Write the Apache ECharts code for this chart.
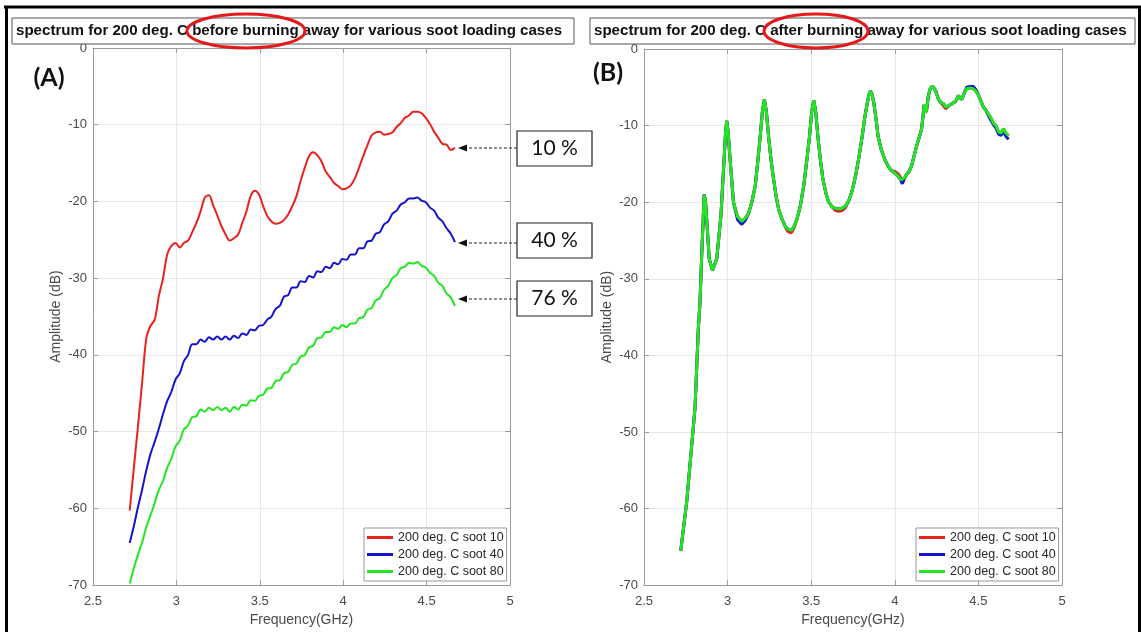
<!DOCTYPE html>
<html>
<head>
<meta charset="utf-8">
<script src="https://cdn.jsdelivr.net/npm/echarts@6/dist/echarts.min.js"></script>
<style>
  html, body { margin: 0; padding: 0; background: #fff; }
  #chart { width: 1141px; height: 632px; }
</style>
</head>
<body>
<div id="chart"></div>
<script>
// panel (A): before burning away, shared frequency grid (GHz)
const freqA = [2.72, 2.745, 2.77, 2.795, 2.82, 2.845, 2.87, 2.895, 2.92, 2.945,
  2.97, 2.995, 3.02, 3.045, 3.07, 3.095, 3.12, 3.145, 3.17, 3.195,
  3.22, 3.245, 3.27, 3.295, 3.32, 3.345, 3.37, 3.395, 3.42, 3.445,
  3.47, 3.495, 3.52, 3.545, 3.57, 3.595, 3.62, 3.645, 3.67, 3.695,
  3.72, 3.745, 3.77, 3.795, 3.82, 3.845, 3.87, 3.895, 3.92, 3.945,
  3.97, 3.995, 4.02, 4.045, 4.07, 4.095, 4.12, 4.145, 4.17, 4.195,
  4.22, 4.245, 4.27, 4.295, 4.32, 4.345, 4.37, 4.395, 4.42, 4.445,
  4.47, 4.495, 4.52, 4.545, 4.57, 4.595, 4.62, 4.645, 4.67];

const soot10A = [-60.3, -54.7, -49.2, -43.5, -37.8, -36.2, -35.4, -32.3, -30.0, -26.9,
  -25.8, -25.4, -26.0, -25.4, -25.1, -24.0, -22.8, -21.3, -19.5, -19.2,
  -20.5, -21.8, -23.2, -24.3, -25.1, -24.8, -24.3, -22.8, -21.3, -19.3,
  -18.6, -19.1, -20.6, -21.9, -22.6, -22.9, -22.8, -22.4, -21.7, -20.6,
  -19.3, -17.3, -15.6, -14.1, -13.6, -14.0, -14.8, -16.1, -16.8, -17.6,
  -18.0, -18.4, -18.3, -17.9, -17.0, -15.6, -14.1, -12.7, -11.4, -11.0,
  -10.9, -11.3, -11.2, -11.0, -10.3, -9.8, -9.1, -8.8, -8.3, -8.3,
  -8.5, -9.1, -9.9, -10.9, -11.7, -12.5, -12.6, -13.3, -13.0];

const soot40A = [-64.5, -62.3, -59.8, -57.5, -55.0, -52.9, -51.3, -49.6, -47.7, -46.0,
  -44.8, -43.2, -42.4, -40.8, -40.0, -38.6, -38.6, -38.0, -38.3, -37.7,
  -38.0, -37.6, -38.0, -37.6, -38.0, -37.5, -37.8, -37.2, -37.4, -36.7,
  -36.8, -36.2, -36.1, -35.4, -35.0, -34.0, -33.6, -32.4, -32.2, -31.2,
  -31.2, -30.4, -30.5, -29.7, -29.9, -29.1, -29.2, -28.5, -28.7, -28.0,
  -28.2, -27.5, -27.6, -26.9, -26.9, -26.1, -26.1, -25.2, -25.1, -24.2,
  -24.0, -23.0, -22.6, -21.6, -21.2, -20.4, -20.1, -19.6, -19.6, -19.5,
  -19.9, -20.1, -20.8, -21.2, -22.1, -22.6, -23.5, -24.2, -25.3];

const soot80A = [-69.8, -67.8, -66.0, -64.4, -62.4, -60.9, -59.3, -57.6, -56.4, -54.7,
  -53.5, -51.9, -51.2, -49.7, -49.2, -48.1, -48.0, -47.1, -47.4, -46.9,
  -47.2, -46.8, -47.2, -46.9, -47.4, -46.8, -47.1, -46.5, -46.6, -45.9,
  -46.0, -45.3, -45.2, -44.4, -44.3, -43.4, -43.3, -42.4, -42.2, -41.3,
  -41.1, -40.2, -40.0, -39.0, -38.8, -37.8, -37.7, -37.0, -37.0, -36.4,
  -36.6, -36.1, -36.4, -35.9, -35.9, -35.2, -35.1, -34.1, -33.9, -32.9,
  -32.6, -31.5, -31.0, -30.0, -29.6, -28.7, -28.5, -28.0, -28.1, -27.9,
  -28.4, -28.6, -29.3, -29.7, -30.6, -31.0, -32.0, -32.5, -33.6];

// panel (B): after burning away
const freqB = [2.72, 2.756, 2.805, 2.825, 2.835, 2.845, 2.86, 2.868, 2.875, 2.89,
  2.91, 2.935, 2.96, 2.98, 2.988, 2.995, 3.003, 3.015, 3.035, 3.06,
  3.085, 3.105, 3.125, 3.145, 3.165, 3.18, 3.195, 3.208, 3.22, 3.232,
  3.245, 3.26, 3.275, 3.29, 3.305, 3.325, 3.345, 3.36, 3.38, 3.395,
  3.415, 3.435, 3.455, 3.475, 3.49, 3.503, 3.515, 3.527, 3.54, 3.555,
  3.57, 3.59, 3.605, 3.625, 3.645, 3.665, 3.685, 3.705, 3.725, 3.745,
  3.765, 3.785, 3.805, 3.82, 3.835, 3.845, 3.855, 3.865, 3.875, 3.89,
  3.9, 3.92, 3.94, 3.96, 3.98, 4.0, 4.02, 4.035, 4.045, 4.06,
  4.07, 4.085, 4.1, 4.115, 4.13, 4.145, 4.16, 4.17, 4.175, 4.183,
  4.19, 4.2, 4.21, 4.225, 4.235, 4.245, 4.26, 4.275, 4.29, 4.305,
  4.315, 4.33, 4.345, 4.36, 4.37, 4.38, 4.39, 4.4, 4.415, 4.43,
  4.45, 4.47, 4.485, 4.5, 4.515, 4.53, 4.545, 4.56, 4.575, 4.59,
  4.605, 4.62, 4.635, 4.65, 4.665, 4.68];

const soot10B = [-65.5, -59.0, -46.9, -36.5, -33.0, -27.0, -19.0, -20.0, -22.2, -27.4,
  -28.9, -27.4, -21.8, -14.0, -10.8, -9.4, -10.8, -14.4, -20.0, -21.9,
  -22.5, -22.1, -21.5, -20.0, -17.9, -14.8, -11.4, -8.2, -6.6, -8.2,
  -11.4, -14.5, -17.0, -19.2, -20.9, -22.2, -23.2, -23.8, -24.0, -23.5,
  -22.2, -20.5, -17.9, -14.3, -11.4, -8.2, -6.7, -8.2, -11.4, -14.5,
  -17.0, -19.0, -20.0, -20.6, -21.1, -21.2, -21.1, -20.7, -19.8, -18.5,
  -16.6, -14.2, -11.4, -9.0, -7.1, -6.0, -5.5, -6.0, -7.1, -9.5,
  -11.4, -13.2, -14.4, -15.3, -15.9, -16.0, -16.3, -16.8, -17.3, -16.8,
  -16.4, -16.0, -15.3, -14.0, -12.7, -11.6, -10.5, -8.5, -7.3, -8.3,
  -8.0, -6.2, -5.3, -4.8, -5.0, -5.5, -6.5, -7.0, -7.4, -7.8,
  -8.0, -7.3, -7.1, -6.9, -6.6, -6.1, -6.0, -6.6, -5.8, -5.2,
  -5.1, -5.2, -5.5, -6.0, -6.8, -7.6, -8.0, -8.5, -9.0, -9.7,
  -10.0, -10.8, -11.0, -10.4, -11.0, -11.3];

const soot40B = [-65.5, -59.0, -46.9, -36.5, -33.0, -27.0, -19.0, -20.0, -22.2, -27.4,
  -28.9, -27.4, -21.8, -14.0, -10.8, -9.4, -10.8, -14.4, -20.0, -22.3,
  -22.9, -22.4, -21.5, -20.0, -17.9, -14.8, -11.4, -8.2, -6.6, -8.2,
  -11.4, -14.5, -17.0, -19.2, -20.9, -22.2, -23.2, -23.5, -23.7, -23.3,
  -22.2, -20.5, -17.9, -14.3, -11.4, -8.2, -6.7, -8.2, -11.4, -14.5,
  -17.0, -19.0, -20.0, -20.6, -20.8, -20.9, -20.8, -20.5, -19.8, -18.5,
  -16.6, -14.2, -11.4, -9.0, -7.1, -6.0, -5.5, -6.0, -7.1, -9.5,
  -11.4, -13.2, -14.4, -15.3, -15.9, -16.2, -16.6, -17.1, -17.6, -16.8,
  -16.4, -16.0, -15.3, -14.0, -12.7, -11.6, -10.5, -8.5, -7.3, -8.3,
  -8.0, -6.2, -5.3, -4.8, -5.0, -5.5, -6.5, -7.0, -7.1, -7.6,
  -7.8, -7.3, -7.1, -6.9, -6.6, -6.1, -6.0, -6.6, -5.8, -5.0,
  -4.9, -4.9, -5.3, -6.0, -6.8, -7.6, -8.0, -8.7, -9.3, -9.9,
  -10.3, -11.1, -11.3, -10.8, -11.4, -11.8];

const soot80B = [-65.5, -59.0, -46.9, -36.5, -33.0, -27.0, -19.0, -20.0, -22.2, -27.4,
  -28.9, -27.4, -21.8, -14.0, -10.8, -9.4, -10.8, -14.4, -20.0, -21.9,
  -22.5, -22.1, -21.5, -20.0, -17.9, -14.8, -11.4, -8.2, -6.6, -8.2,
  -11.4, -14.5, -17.0, -19.2, -20.9, -22.2, -23.2, -23.5, -23.7, -23.3,
  -22.2, -20.5, -17.9, -14.3, -11.4, -8.2, -6.7, -8.2, -11.4, -14.5,
  -17.0, -19.0, -20.0, -20.6, -20.8, -20.9, -20.8, -20.5, -19.8, -18.5,
  -16.6, -14.2, -11.4, -9.0, -7.1, -6.0, -5.5, -6.0, -7.1, -9.5,
  -11.4, -13.2, -14.4, -15.3, -15.9, -16.2, -16.6, -17.1, -17.3, -16.8,
  -16.4, -16.0, -15.3, -14.0, -12.7, -11.6, -10.5, -8.5, -7.3, -8.3,
  -8.0, -6.2, -5.3, -4.8, -5.0, -5.5, -6.5, -7.0, -7.1, -7.6,
  -7.8, -7.3, -7.1, -6.9, -6.6, -6.1, -6.0, -6.6, -5.8, -5.2,
  -5.1, -5.2, -5.5, -6.0, -6.8, -7.6, -8.0, -8.5, -9.0, -9.7,
  -10.0, -10.8, -11.0, -10.4, -11.0, -11.3];

const seriesNames = ['200 deg. C soot 10', '200 deg. C soot 40', '200 deg. C soot 80'];
const seriesColors = ['#e8231f', '#1414cc', '#22e622'];
const titleA = 'spectrum for 200 deg. C before burning away for various soot loading cases';
const titleB = 'spectrum for 200 deg. C after burning away for various soot loading cases';
const loadLabels = ['10 %', '40 %', '76 %'];

const FONT = '"Liberation Sans", Arial, sans-serif';
const frameColor = '#9a9a9a';
const labelColor = '#4a4a4a';

const zip = (xs, ys) => xs.map((x, i) => [x, ys[i]]);

// matlab-like axes, bottom/left carry labels, top/right only ticks
const xAxisFor = (grid, top) => ({
  type: 'value', gridIndex: grid, min: 2.5, max: 5, interval: 0.5,
  position: top ? 'top' : 'bottom',
  axisLine: { show: true, onZero: false, lineStyle: { color: frameColor, width: 1 } },
  axisTick: { show: true, inside: true, length: 5, lineStyle: { color: frameColor } },
  axisLabel: { show: !top, color: labelColor, fontSize: 13, fontFamily: FONT, margin: 10 },
  splitLine: { show: !top, lineStyle: { color: '#e8e8e8', width: 1 } },
  name: top ? '' : 'Frequency(GHz)', nameLocation: 'middle', nameGap: 27,
  nameTextStyle: { color: labelColor, fontSize: 14, fontFamily: FONT }
});
const yAxisFor = (grid, right) => ({
  type: 'value', gridIndex: grid, min: -70, max: 0, interval: 10,
  position: right ? 'right' : 'left',
  axisLine: { show: true, onZero: false, lineStyle: { color: frameColor, width: 1 } },
  axisTick: { show: true, inside: true, length: 5, lineStyle: { color: frameColor } },
  axisLabel: { show: !right, color: labelColor, fontSize: 13, fontFamily: FONT, margin: 6 },
  splitLine: { show: !right, lineStyle: { color: '#e8e8e8', width: 1 } },
  name: right ? '' : 'Amplitude (dB)', nameLocation: 'middle', nameGap: 30, nameRotate: 90,
  nameTextStyle: { color: labelColor, fontSize: 14, fontFamily: FONT }
});

const lineSeries = (name, color, data, axis, width) => ({
  name: name, type: 'line', xAxisIndex: axis, yAxisIndex: axis,
  data: data, showSymbol: false, symbol: 'none', smooth: axis === 0 ? 0.35 : false,
  lineStyle: { color: color, width: width }, itemStyle: { color: color },
  clip: true, z: 3
});

const legendFor = (left) => ({
  left: left, top: 528, orient: 'vertical', selectedMode: false,
  data: seriesNames, icon: 'rect', itemWidth: 26, itemHeight: 3, itemGap: 4,
  padding: [3, 3, 3, 3], backgroundColor: '#fff', borderColor: '#999', borderWidth: 1,
  textStyle: { color: '#262626', fontSize: 12.5, fontFamily: FONT }
});

// annotation box + dashed arrow to the end of a curve (pixel positions)
const annotation = (label, boxTop, arrowY) => [
  { type: 'rect', shape: { x: 517, y: boxTop, width: 75, height: 35 },
    style: { fill: '#fff', stroke: '#222', lineWidth: 1.2 }, z: 10 },
  { type: 'text', x: 554.5, y: boxTop + 17.5,
    style: { text: label, font: '21px Lato, "Open Sans", sans-serif', fill: '#111',
             textAlign: 'center', textVerticalAlign: 'middle' }, z: 11 },
  { type: 'line', shape: { x1: 517, y1: arrowY, x2: 466, y2: arrowY },
    style: { stroke: '#222', lineWidth: 1.2, lineDash: [3, 2] }, z: 10 },
  { type: 'polygon', shape: { points: [[458, arrowY], [467, arrowY - 3.5], [467, arrowY + 3.5]] },
    style: { fill: '#111' }, z: 10 }
];

const titleBox = (x, width, text) => [
  { type: 'rect', shape: { x: x, y: 18, width: width, height: 26 },
    style: { fill: '#fff', stroke: '#555', lineWidth: 1 }, z: 10 },
  { type: 'text', x: x + 4, y: 31,
    style: { text: text, font: 'bold 15.1px ' + FONT, fill: '#111', textVerticalAlign: 'middle' }, z: 11 }
];

const chart = echarts.init(document.getElementById('chart'), null, { renderer: 'canvas' });
chart.setOption({
  animation: false,
  backgroundColor: '#fff',
  grid: [
    { left: 93, top: 48, width: 417, height: 539, show: false },
    { left: 644, top: 49, width: 418, height: 539, show: false }
  ],
  xAxis: [xAxisFor(0, false), xAxisFor(0, true), xAxisFor(1, false), xAxisFor(1, true)],
  yAxis: [yAxisFor(0, false), yAxisFor(0, true), yAxisFor(1, false), yAxisFor(1, true)],
  legend: [legendFor(364), legendFor(916)],
  series: [
    lineSeries(seriesNames[0], seriesColors[0], zip(freqA, soot10A), 0, 2),
    lineSeries(seriesNames[1], seriesColors[1], zip(freqA, soot40A), 0, 2),
    lineSeries(seriesNames[2], seriesColors[2], zip(freqA, soot80A), 0, 2),
    lineSeries(seriesNames[0], seriesColors[0], zip(freqB, soot10B), 2, 3),
    lineSeries(seriesNames[1], seriesColors[1], zip(freqB, soot40B), 2, 3),
    lineSeries(seriesNames[2], seriesColors[2], zip(freqB, soot80B), 2, 3)
  ],
  graphic: [
    // outer black frame
    { type: 'line', shape: { x1: 4, y1: 7, x2: 1141, y2: 7 }, style: { stroke: '#000', lineWidth: 3 } },
    { type: 'line', shape: { x1: 6.5, y1: 6, x2: 6.5, y2: 632 }, style: { stroke: '#000', lineWidth: 3 } },
    { type: 'line', shape: { x1: 1139.5, y1: 6, x2: 1139.5, y2: 632 }, style: { stroke: '#000', lineWidth: 3 } },
    ...titleBox(12, 562, titleA),
    ...titleBox(590, 545, titleB),
    { type: 'ellipse', shape: { cx: 246, cy: 31, rx: 59, ry: 17 },
      style: { fill: 'none', stroke: '#e3191c', lineWidth: 3 }, z: 12 },
    { type: 'ellipse', shape: { cx: 816, cy: 31, rx: 52, ry: 17 },
      style: { fill: 'none', stroke: '#e3191c', lineWidth: 3 }, z: 12 },
    { type: 'text', x: 49, y: 78,
      style: { text: '(A)', font: 'bold 25px Lato, "Open Sans", sans-serif', fill: '#111',
               textAlign: 'center', textVerticalAlign: 'middle' }, z: 11 },
    { type: 'text', x: 608, y: 73,
      style: { text: '(B)', font: 'bold 25px Lato, "Open Sans", sans-serif', fill: '#111',
               textAlign: 'center', textVerticalAlign: 'middle' }, z: 11 },
    ...annotation(loadLabels[0], 131, 148),
    ...annotation(loadLabels[1], 223, 243),
    ...annotation(loadLabels[2], 281, 299)
  ]
});
</script>
</body>
</html>
